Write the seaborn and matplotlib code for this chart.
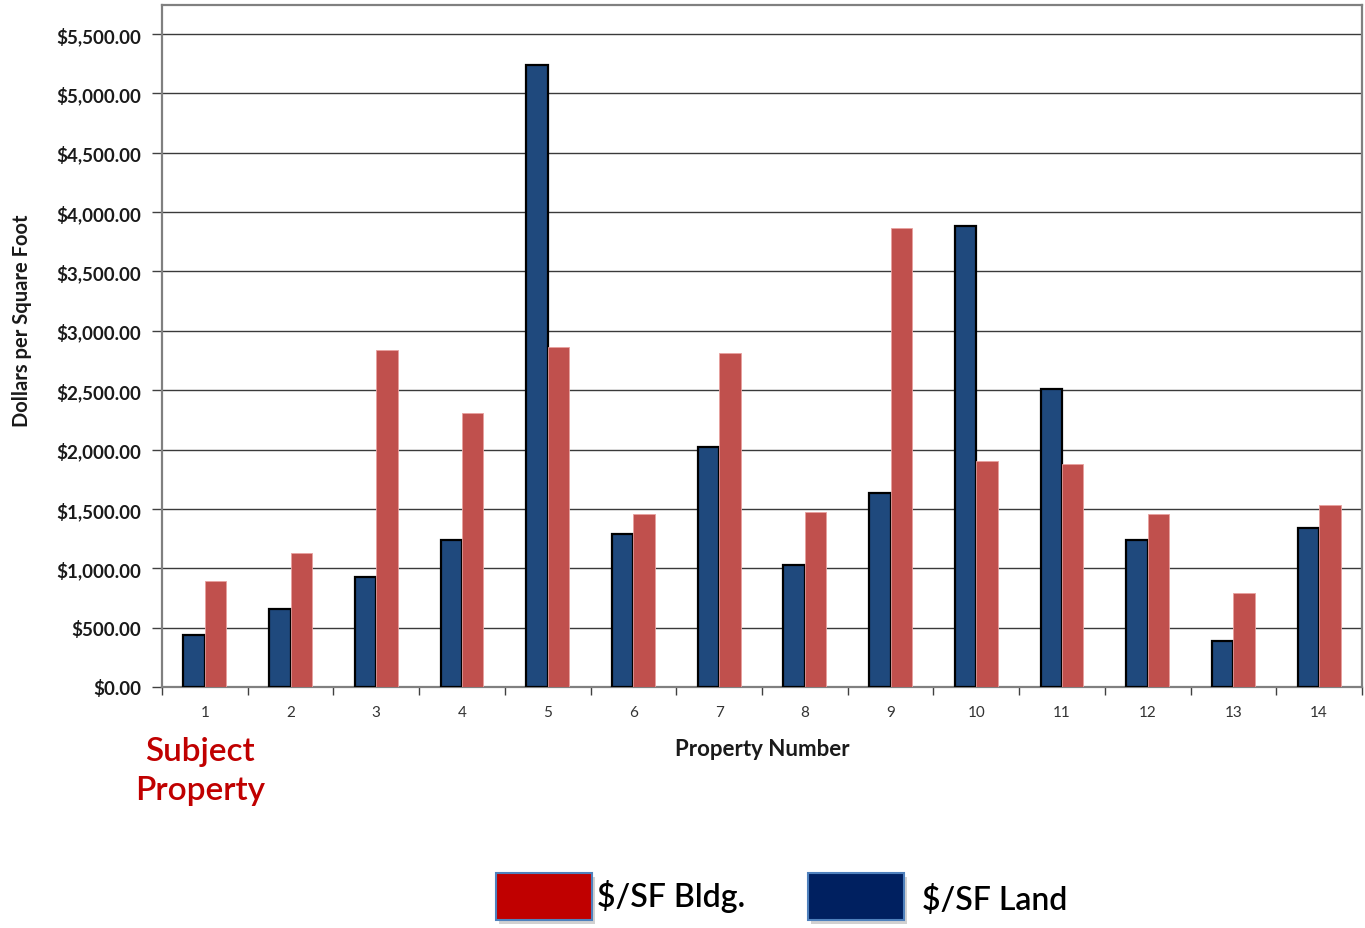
import matplotlib
matplotlib.use("Agg")
import matplotlib.pyplot as plt
from matplotlib.patches import Rectangle
from matplotlib.ticker import FuncFormatter, MultipleLocator, FixedLocator
import seaborn as sns
import pandas as pd

# Price per square foot for each comparable property
properties = [str(i) for i in range(1, 15)]
land_psf = [440, 660, 930, 1240, 5240, 1285, 2025, 1030, 1630, 3885, 2510, 1240, 390, 1335]
bldg_psf = [895, 1125, 2840, 2310, 2860, 1455, 2810, 1475, 3870, 1905, 1880, 1455, 795, 1530]
series_names = ["$/SF Land", "$/SF Bldg."]
bar_colors = ["#1F497D", "#C0504D"]
legend_colors = {"$/SF Bldg.": "#C00000", "$/SF Land": "#002060"}

df = pd.DataFrame({
    "Property": properties * 2,
    "Value": land_psf + bldg_psf,
    "Series": [series_names[0]] * len(properties) + [series_names[1]] * len(properties),
})

sns.set_theme(style="white")
plt.rcParams["font.family"] = ["Lato", "DejaVu Sans"]

fig = plt.figure(figsize=(13.65, 9.29), dpi=100)
ax = fig.add_axes([162 / 1365, 1 - 688 / 929, 1200 / 1365, 682 / 929])

sns.barplot(data=df, x="Property", y="Value", hue="Series",
            hue_order=series_names, palette=bar_colors, order=properties,
            width=0.5, gap=0, dodge=True, saturation=1, legend=False,
            errorbar=None, ax=ax, zorder=3)

# Land bars get a black outline; building bars a faint light edge
for container, edge, lw in zip(ax.containers, ["black", "#E8A09E"], [1.6, 0.6]):
    for bar in container:
        bar.set_edgecolor(edge)
        bar.set_linewidth(lw)

ax.set_xlim(-0.5, len(properties) - 0.5)
ax.set_ylim(0, 5744)
ax.yaxis.set_major_locator(MultipleLocator(500))
ax.yaxis.set_major_formatter(FuncFormatter(lambda v, p: f"${v:,.2f}"))
ax.grid(axis="y", color="#3a3a3a", linewidth=1.0, zorder=0)
ax.grid(axis="x", visible=False)
ax.set_axisbelow(True)

for side in ["left", "bottom", "top", "right"]:
    ax.spines[side].set_visible(True)
    ax.spines[side].set_color("#808080")
    ax.spines[side].set_linewidth(1.6)

ax.tick_params(axis="y", which="major", direction="out", length=7, width=1,
               color="#404040", labelsize=13.5, pad=8, left=True)
for lbl in ax.get_yticklabels():
    lbl.set_fontweight("bold")
    lbl.set_color("#1a1a1a")

ax.xaxis.set_minor_locator(FixedLocator([i - 0.5 for i in range(len(properties) + 1)]))
ax.tick_params(axis="x", which="major", length=0, labelsize=11, pad=13, labelcolor="#333333")
ax.tick_params(axis="x", which="minor", direction="out", length=6, width=1,
               color="#404040", bottom=True)

ax.set_xlabel("Property Number", fontsize=16, fontweight="bold", labelpad=14, color="#1a1a1a")
ax.set_ylabel("Dollars per Square Foot", fontsize=14.5, fontweight="bold", color="#1a1a1a")
ax.yaxis.set_label_coords(-0.108, 0.538)

# Marker for the subject property under the first category
fig.text(200 / 1365, 1 - 752 / 929, "Subject", ha="center", va="center",
         fontsize=24, color="#C00000", fontweight="semibold")
fig.text(200 / 1365, 1 - 791 / 929, "Property", ha="center", va="center",
         fontsize=24, color="#C00000", fontweight="semibold")

# Custom legend swatches along the bottom
def swatch(x0, label, text_x, text_y):
    w, h = 96 / 1365, 47 / 929
    y0 = 1 - 921 / 929
    shadow = Rectangle((x0 + 0.002, y0 - 0.004), w, h, transform=fig.transFigure,
                       facecolor="#000000", alpha=0.18, edgecolor="none", zorder=1)
    box = Rectangle((x0, y0), w, h, transform=fig.transFigure,
                    facecolor=legend_colors[label], edgecolor="#4F81BD",
                    linewidth=1.5, zorder=2)
    fig.patches.extend([shadow, box])
    fig.text(text_x, text_y, label, ha="left", va="center", fontsize=23,
             fontweight="semibold", color="black")

swatch(496 / 1365, "$/SF Bldg.", 597 / 1365, 1 - 897 / 929)
swatch(808 / 1365, "$/SF Land", 922 / 1365, 1 - 901 / 929)

fig.savefig("out.png", dpi=100, facecolor="white")
